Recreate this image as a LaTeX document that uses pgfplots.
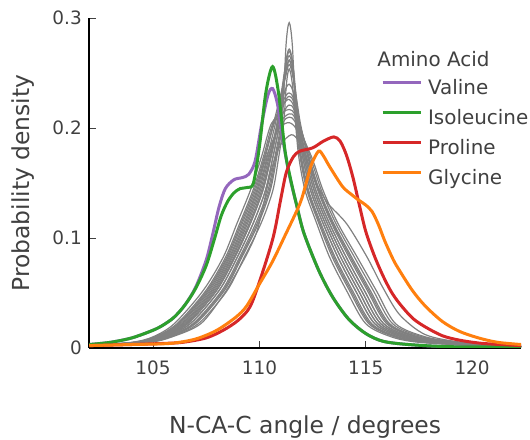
\documentclass[border=0pt]{standalone}
\usepackage{fontspec}
\setmainfont{DejaVu Sans}
\usepackage{pgfplots}
\usepackage{pgfplotstable}
\pgfplotsset{compat=1.18}
\definecolor{txt}{HTML}{404040}
\definecolor{cval}{HTML}{9467BD}
\definecolor{ciso}{HTML}{2CA02C}
\definecolor{cpro}{HTML}{D62728}
\definecolor{cgly}{HTML}{FF7F0E}
\definecolor{cgray}{HTML}{808080}

\pgfplotstableread{
x y
102 0.003
103 0.005
104 0.009
105 0.016
105.5 0.021
106 0.028
106.5 0.039
107 0.055
107.5 0.080
107.8 0.103
108.1 0.128
108.4 0.145
108.8 0.153
109.2 0.155
109.5 0.158
109.8 0.170
110.1 0.203
110.4 0.230
110.62 0.236
110.85 0.222
111.1 0.190
111.4 0.158
111.75 0.130
112.1 0.104
112.8 0.070
113.45 0.046
114.2 0.026
115 0.013
115.8 0.006
117 0.003
119 0.001
122.3 0.001
}\valine

\pgfplotstableread{
x y
102 0.003
103 0.005
104 0.009
105 0.016
105.5 0.021
106 0.028
106.5 0.039
107 0.054
107.5 0.075
107.9 0.100
108.2 0.120
108.5 0.133
108.8 0.141
109.1 0.145
109.45 0.146
109.72 0.150
110.0 0.183
110.3 0.232
110.62 0.256
110.9 0.232
111.2 0.180
111.45 0.155
111.75 0.130
112.1 0.104
112.8 0.070
113.45 0.046
114.2 0.026
115 0.013
115.8 0.006
117 0.003
119 0.001
122.3 0.001
}\isoleucine

\pgfplotstableread{
x y
102 0.002
104 0.003
105.5 0.004
106.4 0.005
107.5 0.009
108.3 0.016
109 0.025
109.55 0.037
110.0 0.060
110.64 0.100
111.0 0.135
111.27 0.160
111.6 0.174
111.9 0.179
112.5 0.182
113.0 0.188
113.5 0.192
113.8 0.188
114.1 0.175
114.4 0.155
114.7 0.130
115.0 0.106
115.4 0.084
115.8 0.066
116.2 0.051
116.6 0.040
117.2 0.027
117.8 0.019
118.6 0.011
119.4 0.007
120.5 0.004
122.3 0.002
}\proline

\pgfplotstableread{
x y
102 0.002
104 0.003
105.8 0.004
107 0.008
108.0 0.016
108.9 0.028
109.4 0.038
110.0 0.058
110.6 0.078
111.2 0.102
111.9 0.131
112.2 0.150
112.45 0.167
112.78 0.179
113.0 0.175
113.3 0.165
113.9 0.147
114.3 0.140
114.7 0.134
115.0 0.130
115.3 0.124
115.6 0.112
115.9 0.097
116.3 0.080
116.6 0.070
117.2 0.052
117.8 0.038
118.6 0.024
119.4 0.015
120.3 0.009
121.2 0.005
122.3 0.003
}\glycine

\begin{document}
\begin{tikzpicture}
\begin{axis}[
  name=ax,
  scale only axis,
  width=432bp, height=329.7bp,
  xmin=102, xmax=122.3, ymin=0, ymax=0.3,
  axis x line*=bottom, axis y line*=left,
  axis line style={black, line width=2.2bp, -},
  xtick={105,110,115,120},
  ytick={0,0.1,0.2,0.3}, yticklabels={0,0.1,0.2,0.3},
  scaled y ticks=false,
  tick align=inside, major tick length=7bp,
  tick style={color=txt, line width=0.9bp},
  /pgf/number format/assume math mode=true,
  ticklabel style={font=\fontsize{18.5}{20}\selectfont, text=txt},
  xticklabel style={anchor=base, inner sep=0pt, yshift=-27bp},
  yticklabel style={anchor=east, inner sep=0pt, xshift=-7.3bp},
  xlabel={N-CA-C angle / degrees},
  ylabel={Probability density},
  label style={font=\fontsize{23.5}{26}\selectfont, text=txt},
  xlabel style={at={(rel axis cs:0.5,-0.2587)}, anchor=base},
  ylabel style={at={(rel axis cs:-0.1389,0.5)}, anchor=base},
  legend cell align=left,
  legend style={draw=none, fill=none, inner sep=0pt, outer sep=0pt,
    at={(rel axis cs:0.676,0.816)}, anchor=north west,
    font=\fontsize{20}{22}\selectfont, text=txt,
    row sep=8.9bp, column sep=6bp,
    nodes={inner sep=0pt, text height=16bp, text depth=5bp}},
  legend image code/.code={\draw[#1, line width=3bp] (0bp,6.5bp) -- (38bp,6.5bp);},
  every axis plot/.append style={smooth, tension=0.5},
  gr/.style={cgray, line width=1.2bp, forget plot},
]
% other amino acids (grey)
\addplot[gr] coordinates {(102,.002)(104.64,.005)(105.72,.010)(107.0,.022)(108.35,.052)(109.18,.0825)(109.95,.113)(110.51,.143)(110.82,.174)(111.07,.204)(111.25,.275)(111.4,.296)(111.55,.275)(111.73,.204)(111.91,.174)(112.24,.143)(112.8,.113)(113.43,.0825)(114.24,.052)(115.14,.022)(116.36,.010)(117.69,.005)(120.33,.002)(122.3,.001)};
\addplot[gr] coordinates {(102,.002)(104.48,.005)(105.54,.010)(106.75,.022)(108.1,.052)(108.96,.0825)(109.7,.113)(110.28,.143)(110.64,.174)(110.94,.204)(111.22,.257)(111.4,.272)(111.58,.257)(111.79,.204)(112.03,.174)(112.41,.143)(113.0,.113)(113.69,.0825)(114.52,.052)(115.42,.022)(116.68,.010)(118.07,.005)(120.6,.002)(122.3,.001)};
\addplot[gr] coordinates {(102,.002)(104.32,.005)(105.36,.010)(106.5,.022)(107.85,.052)(108.74,.0825)(109.44,.113)(110.04,.143)(110.46,.174)(110.82,.204)(111.2,.254)(111.4,.270)(111.6,.254)(111.85,.204)(112.15,.174)(112.58,.143)(113.2,.113)(113.95,.0825)(114.8,.052)(115.7,.022)(117.0,.010)(118.45,.005)(120.85,.002)(122.3,.001)};
\addplot[gr] coordinates {(102,.002)(104.56,.005)(105.63,.010)(106.88,.022)(108.23,.052)(109.07,.0825)(109.82,.113)(110.4,.143)(110.73,.174)(111.01,.204)(111.22,.252)(111.4,.266)(111.58,.252)(111.76,.204)(111.97,.174)(112.32,.143)(112.9,.113)(113.56,.0825)(114.38,.052)(115.28,.022)(116.52,.010)(117.88,.005)(120.46,.002)(122.3,.001)};
\addplot[gr] coordinates {(102,.002)(104.4,.005)(105.45,.010)(106.63,.022)(107.98,.052)(108.85,.0825)(109.57,.113)(110.16,.143)(110.55,.174)(110.88,.204)(111.2,.247)(111.4,.262)(111.6,.247)(111.82,.204)(112.09,.174)(112.49,.143)(113.1,.113)(113.82,.0825)(114.66,.052)(115.56,.022)(116.84,.010)(118.26,.005)(120.72,.002)(122.3,.001)};
\addplot[gr] coordinates {(102,.002)(104.24,.005)(105.27,.010)(106.38,.022)(107.73,.052)(108.63,.0825)(109.32,.113)(109.92,.143)(110.37,.174)(110.75,.204)(111.2,.244)(111.4,.258)(111.6,.244)(111.88,.204)(112.21,.174)(112.66,.143)(113.3,.113)(114.08,.0825)(114.94,.052)(115.84,.022)(117.16,.010)(118.64,.005)(120.98,.002)(122.3,.001)};
\addplot[gr] coordinates {(102,.002)(104.72,.005)(105.81,.010)(107.13,.022)(108.48,.052)(109.29,.0825)(110.07,.113)(110.63,.143)(110.91,.174)(111.14,.204)(111.27,.240)(111.4,.254)(111.55,.240)(111.7,.204)(111.85,.174)(112.15,.143)(112.7,.113)(113.3,.0825)(114.1,.052)(115.0,.022)(116.2,.010)(117.5,.005)(120.2,.002)(122.3,.001)};
\addplot[gr] coordinates {(102,.002)(104.16,.005)(105.18,.010)(106.25,.022)(107.6,.052)(108.52,.0825)(109.19,.113)(109.81,.143)(110.28,.174)(110.69,.204)(111.15,.226)(111.4,.232)(111.65,.224)(112.27,.174)(112.75,.143)(113.4,.113)(114.21,.0825)(115.08,.052)(115.98,.022)(117.32,.010)(118.83,.005)(121.1,.002)(122.3,.001)};
\addplot[gr] coordinates {(102,.002)(104.4,.005)(105.45,.010)(106.63,.022)(107.98,.052)(108.85,.0825)(109.57,.113)(110.16,.143)(110.55,.174)(110.88,.204)(111.15,.222)(111.4,.229)(111.65,.221)(112.15,.174)(112.58,.143)(113.2,.113)(113.95,.0825)(114.8,.052)(115.7,.022)(117.0,.010)(118.45,.005)(120.85,.002)(122.3,.001)};
\addplot[gr] coordinates {(102,.002)(104.08,.005)(105.09,.010)(106.13,.022)(107.48,.052)(108.41,.0825)(109.07,.113)(109.69,.143)(110.19,.174)(110.62,.204)(111.1,.221)(111.4,.226)(111.7,.216)(112.33,.174)(112.83,.143)(113.5,.113)(114.34,.0825)(115.22,.052)(116.12,.022)(117.48,.010)(119.02,.005)(121.24,.002)(122.3,.001)};
\addplot[gr] coordinates {(102,.002)(104.48,.005)(105.54,.010)(106.75,.022)(108.1,.052)(108.96,.0825)(109.7,.113)(110.28,.143)(110.64,.174)(110.97,.204)(111.15,.215)(111.4,.221)(111.65,.215)(112.03,.174)(112.41,.143)(113.0,.113)(113.69,.0825)(114.52,.052)(115.42,.022)(116.68,.010)(118.07,.005)(120.6,.002)(122.3,.001)};
\addplot[gr] coordinates {(102,.002)(104.0,.005)(105.0,.010)(106.0,.022)(107.35,.052)(108.3,.0825)(108.94,.113)(109.57,.143)(110.1,.174)(110.56,.204)(111.1,.214)(111.4,.217)(111.7,.211)(112.39,.174)(112.92,.143)(113.6,.113)(114.47,.0825)(115.36,.052)(116.26,.022)(117.64,.010)(119.21,.005)(121.37,.002)(122.3,.001)};
\addplot[gr] coordinates {(102,.002)(104.28,.005)(105.32,.010)(106.44,.022)(107.79,.052)(108.69,.0825)(109.38,.113)(109.98,.143)(110.42,.174)(110.95,.204)(111.4,.213)(111.7,.208)(112.21,.174)(112.66,.143)(113.3,.113)(114.08,.0825)(114.94,.052)(115.84,.022)(117.16,.010)(118.64,.005)(120.98,.002)(122.3,.001)};
\addplot[gr] coordinates {(102,.002)(104.6,.005)(105.68,.010)(106.94,.022)(108.29,.052)(109.13,.0825)(109.89,.113)(110.46,.143)(110.78,.174)(111.1,.204)(111.4,.210)(111.7,.205)(112.45,.174)(113.0,.143)(113.7,.113)(114.6,.0825)(115.5,.052)(116.4,.022)(117.8,.010)(119.4,.005)(121.5,.002)(122.3,.001)};
\addplot[gr] coordinates {(102,.002)(104.8,.005)(105.9,.010)(107.25,.022)(108.3,.048)(108.8,.064)(109.4,.085)(109.9,.107)(110.3,.140)(110.65,.168)(111.0,.185)(111.5,.194)(111.85,.188)(112.2,.172)(112.6,.153)(113.2,.132)(114.1,.113)(115.05,.083)(115.8,.055)(116.6,.030)(117.8,.012)(119.5,.005)(121.5,.002)(122.3,.001)};
\addplot[gr] coordinates {(102,.002)(104.36,.005)(105.41,.010)(106.56,.022)(107.91,.052)(108.8,.0825)(109.51,.113)(110.1,.143)(110.51,.174)(110.85,.204)(111.17,.232)(111.4,.240)(111.63,.230)(111.78,.204)(111.94,.174)(112.28,.143)(112.85,.113)(113.5,.0825)(114.31,.052)(115.21,.022)(116.44,.010)(117.79,.005)(120.4,.002)(122.3,.001)};
\addplot[gr] coordinates {(102,.002)(104.2,.005)(105.23,.010)(106.31,.022)(107.66,.052)(108.58,.0825)(109.26,.113)(109.87,.143)(110.33,.174)(110.9,.199)(111.4,.205)(111.8,.197)(112.09,.174)(112.49,.143)(113.1,.113)(113.82,.0825)(114.66,.052)(115.56,.022)(116.84,.010)(118.26,.005)(120.72,.002)(122.3,.001)};
\addplot[gr] coordinates {(102,.002)(104.12,.005)(105.14,.010)(106.19,.022)(107.54,.052)(108.47,.0825)(109.13,.113)(109.75,.143)(110.24,.174)(110.66,.204)(111.2,.246)(111.4,.262)(111.6,.246)(111.93,.204)(112.3,.174)(112.79,.143)(113.45,.113)(114.28,.0825)(115.15,.052)(116.05,.022)(117.4,.010)(118.93,.005)(121.18,.002)(122.3,.001)};
% highlighted amino acids
\addplot[cval, line width=3bp] table {\valine};
\addlegendentry{Valine}
\addplot[ciso, line width=3bp] table {\isoleucine};
\addlegendentry{Isoleucine}
\addplot[cpro, line width=3bp] table {\proline};
\addlegendentry{Proline}
\addplot[cgly, line width=3bp] table {\glycine};
\addlegendentry{Glycine}
\node[anchor=base west, inner sep=0pt, font=\fontsize{20}{22}\selectfont, text=txt] at (rel axis cs:0.667,0.855) {Amino Acid};
\end{axis}
\pgfresetboundingbox
\path ([xshift=-89.3bp,yshift=-92bp]ax.south west) rectangle ([xshift=9bp,yshift=18.3bp]ax.north east);
\end{tikzpicture}
\end{document}
